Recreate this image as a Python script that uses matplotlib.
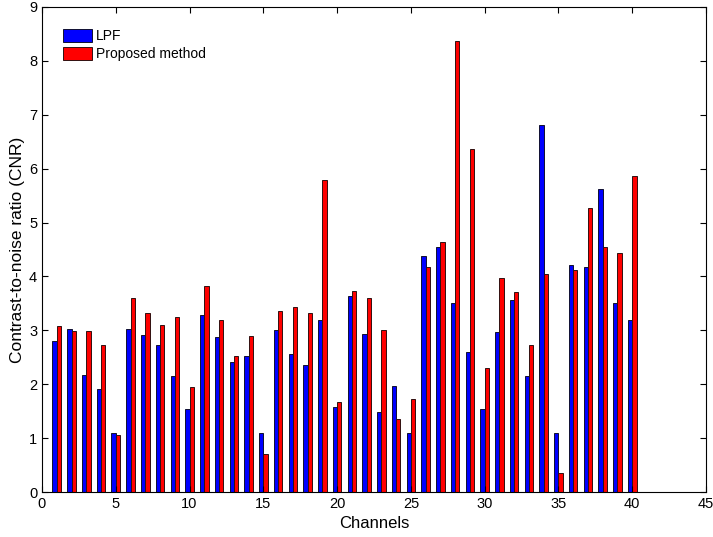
import matplotlib.pyplot as plt
import numpy as np

plt.rcParams['font.family'] = ['Liberation Sans', 'DejaVu Sans']

# CNR per channel
channels = np.arange(1, 41)
lpf = [2.80, 3.02, 2.18, 1.91, 1.10, 3.02, 2.91, 2.72, 2.16, 1.54,
       3.28, 2.87, 2.41, 2.52, 1.10, 3.00, 2.56, 2.35, 3.20, 1.57,
       3.64, 2.93, 1.48, 1.96, 1.10, 4.38, 4.54, 3.50, 2.60, 1.54,
       2.96, 3.57, 2.16, 6.81, 1.10, 4.22, 4.18, 5.62, 3.50, 3.20]
proposed = [3.08, 2.98, 2.98, 2.73, 1.06, 3.60, 3.33, 3.10, 3.25, 1.94,
            3.83, 3.20, 2.52, 2.89, 0.70, 3.35, 3.43, 3.33, 5.79, 1.67,
            3.73, 3.60, 3.00, 1.36, 1.72, 4.17, 4.64, 8.36, 6.36, 2.31,
            3.97, 3.72, 2.72, 4.04, 0.36, 4.12, 5.27, 4.54, 4.43, 5.87]

fig = plt.figure(figsize=(7.13, 5.37), dpi=100)
ax = fig.add_axes([42/713, 45/537, 664/713, 485/537])

w = 0.29
ax.bar(channels - w/2, lpf, width=w, color='#0000ff', edgecolor='#101030',
       linewidth=0.7, label='LPF')
ax.bar(channels + w/2, proposed, width=w, color='#ff0000', edgecolor='#301010',
       linewidth=0.7, label='Proposed method')

ax.set_xlim(0, 45)
ax.set_ylim(0, 9)
ax.set_xticks(np.arange(0, 46, 5))
ax.set_yticks(np.arange(0, 10, 1))
ax.tick_params(direction='in', top=True, right=True, labelsize=10.5, length=4)
ax.set_xlabel('Channels', fontsize=12)
ax.set_ylabel('Contrast-to-noise ratio (CNR)', fontsize=12.5, labelpad=3)

ax.legend(loc='upper left', bbox_to_anchor=(0.023, 0.966), frameon=False,
          fontsize=10, handlelength=2.1, handleheight=1.0,
          labelspacing=0.3, handletextpad=0.3, borderaxespad=0)

fig.savefig('out.png', dpi=100)
